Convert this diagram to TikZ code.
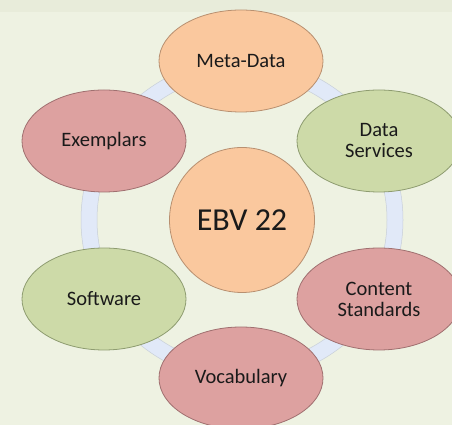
\documentclass[tikz,border=0pt]{standalone}
\usepackage{fontspec}
\setmainfont{Carlito}
\definecolor{bg}{HTML}{EEF2E2}
\definecolor{bgtop}{HTML}{E8ECDA}
\definecolor{ringc}{HTML}{E1E9F8}
\definecolor{ringb}{HTML}{C8CFD8}
\definecolor{orangef}{HTML}{FAC89E}
\definecolor{oranged}{HTML}{B89070}
\definecolor{greenf}{HTML}{CDDAA8}
\definecolor{greend}{HTML}{8E9C70}
\definecolor{redf}{HTML}{DDA1A0}
\definecolor{redd}{HTML}{A07070}
\definecolor{txt}{HTML}{1A1A1A}
\tikzset{
  blob/.style={ellipse, minimum width=164pt, minimum height=102pt, inner sep=0pt, line width=0.8pt, align=center, font=\fontsize{20.5}{21}\selectfont, text=txt},
  orangeblob/.style={blob, fill=orangef, draw=oranged},
  greenblob/.style={blob, fill=greenf, draw=greend},
  redblob/.style={blob, fill=redf, draw=redd},
}
\usetikzlibrary{shapes.geometric}
\begin{document}
\begin{tikzpicture}[x=1pt,y=1pt]
\useasboundingbox (0,0) rectangle (452,425);
\clip (0,0) rectangle (452,425);
\fill[bg] (0,0) rectangle (452,425);
\fill[bgtop] (0,413) rectangle (452,425);
% ring
\coordinate (c) at (242,205);
\draw[ringc, line width=16pt] (c) circle[radius=153];
\draw[ringb, line width=0.5pt] (c) circle[radius=161];
\draw[ringb, line width=0.5pt] (c) circle[radius=145];
% nodes
\node[orangeblob] (meta) at (241,364) {Meta-Data};
\node[greenblob] (ds) at (379,284) {Data\\Services};
\node[redblob] (ex) at (104,284) {Exemplars};
\node[circle, minimum size=145pt, inner sep=0pt, fill=orangef, draw=oranged, line width=0.8pt, font=\fontsize{32}{34}\selectfont, text=txt] (ebv) at (242,205) {EBV 22};
\node[greenblob] (sw) at (104,126) {Software};
\node[redblob] (cs) at (379,126) {Content\\Standards};
\node[redblob] (voc) at (241,47) {Vocabulary};
\end{tikzpicture}
\end{document}
